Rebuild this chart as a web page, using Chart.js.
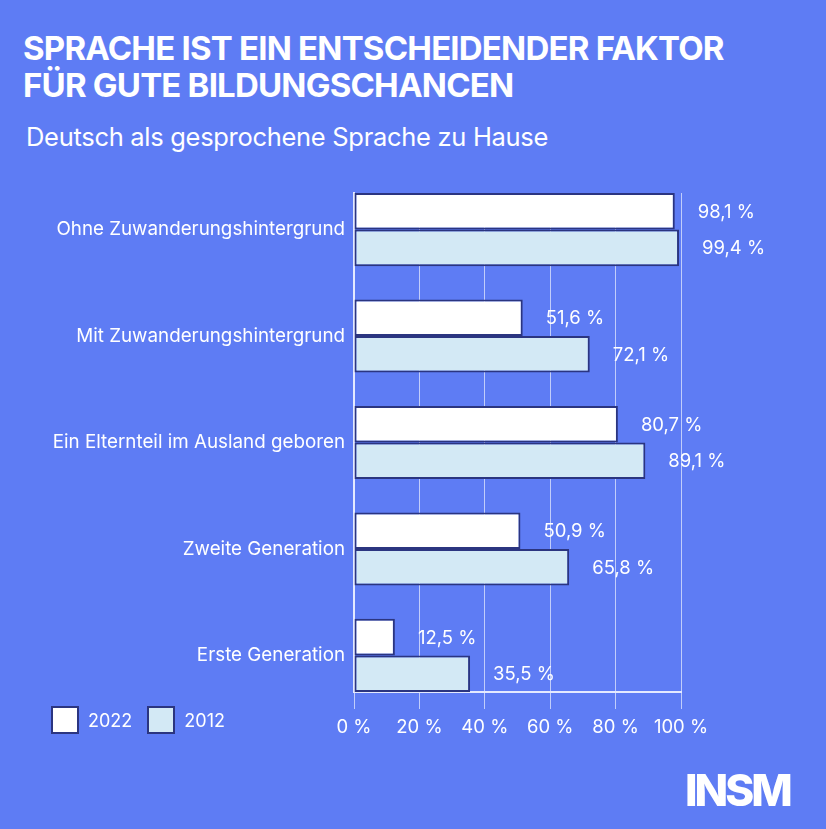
<!DOCTYPE html>
<html>
<head>
<meta charset="utf-8">
<script src="https://cdn.jsdelivr.net/npm/chart.js@4"></script>
<style>
  html, body { margin: 0; padding: 0; }
  body { width: 826px; height: 829px; background: #5e7cf4; position: relative; overflow: hidden; font-family: Inter, "Noto Sans", sans-serif; color: #fff; }
  #title { position: absolute; left: 23px; top: 30px; font-size: 33px; font-weight: 700; line-height: 37px; letter-spacing: -0.8px; }
  #subtitle { position: absolute; left: 26px; top: 121px; font-size: 25.5px; font-weight: 400; letter-spacing: -0.3px; }
  #legend { position: absolute; left: 51px; top: 706px; display: flex; align-items: center; font-size: 18px; }
  #legend .box { width: 24px; height: 24px; border: 2px solid #2b3580; margin-right: 9px; }
  #legend .item { display: flex; align-items: center; margin-right: 15px; }
  #logo { position: absolute; left: 685px; top: 763px; font-size: 44px; font-weight: 800; letter-spacing: -3px; }
  #wrap { position: absolute; left: 0; top: 0; width: 826px; height: 829px; }
</style>
</head>
<body>
<div id="title">SPRACHE IST EIN ENTSCHEIDENDER FAKTOR<br>FÜR GUTE BILDUNGSCHANCEN</div>
<div id="subtitle">Deutsch als gesprochene Sprache zu Hause</div>
<div id="wrap"><canvas id="chart"></canvas></div>
<div id="legend"></div>
<div id="logo">INSM</div>

<script>
// data
const categories = [
    "Ohne Zuwanderungshintergrund",
    "Mit Zuwanderungshintergrund",
    "Ein Elternteil im Ausland geboren",
    "Zweite Generation",
    "Erste Generation"
];
const values2022 = [98.1, 51.6, 80.7, 50.9, 12.5];
const values2012 = [99.4, 72.1, 89.1, 65.8, 35.5];
const xTicks = [0, 20, 40, 60, 80, 100];

const navy = "#2b3580";
const gridColor = "rgba(255, 255, 255, 0.62)";

function toPoints(values) {
    return values.map((v, i) => ({ x: v, y: i }));
}

function fmt(v) {
    return v.toFixed(1).replace(".", ",") + " %";
}

// value labels to the right of each bar
const valueLabels = {
    id: "valueLabels",
    afterDatasetsDraw(chart) {
        const ctx = chart.ctx;
        ctx.save();
        ctx.fillStyle = "#fff";
        ctx.font = "18.5px Inter";
        ctx.textAlign = "left";
        ctx.textBaseline = "middle";
        chart.data.datasets.forEach((ds, di) => {
            chart.getDatasetMeta(di).data.forEach((bar, i) => {
                ctx.fillText(fmt(ds.data[i].x), bar.x + 23, bar.y + 1);
            });
        });
        ctx.restore();
    }
};

const ctx = document.getElementById("chart").getContext("2d");

const chart = new Chart(ctx, {
    type: "bar",
    data: {
        datasets: [
            {
                label: "2022",
                data: toPoints(values2022),
                backgroundColor: "#ffffff",
                borderColor: navy,
                borderWidth: 2,
                borderSkipped: false
            },
            {
                label: "2012",
                data: toPoints(values2012),
                backgroundColor: "#d3e9f5",
                borderColor: navy,
                borderWidth: 2,
                borderSkipped: false
            }
        ]
    },
    options: {
        indexAxis: "y",
        responsive: true,
        maintainAspectRatio: false,
        animation: false,
        categoryPercentage: 0.687,
        barPercentage: 1.0,
        layout: {
            padding: { top: 193, right: 145, bottom: 0, left: 0 }
        },
        plugins: {
            legend: { display: false },
            tooltip: { enabled: false }
        },
        scales: {
            x: {
                type: "linear",
                min: 0,
                max: 100,
                afterBuildTicks: (scale) => {
                    scale.ticks = xTicks.map(v => ({ value: v }));
                },
                afterFit: (scale) => { scale.height = 829 - 692; },
                grid: { color: gridColor, lineWidth: 1, tickLength: 17 },
                border: { display: true, color: "#e4e9ff", width: 2 },
                ticks: {
                    color: "#fff",
                    font: { family: "Inter", size: 18.5 },
                    padding: 7,
                    maxRotation: 0,
                    callback: (v) => v + " %"
                }
            },
            y: {
                type: "linear",
                bounds: "data",
                offset: false,
                reverse: true,
                min: -0.3435,
                max: 4.3435,
                afterBuildTicks: (scale) => {
                    scale.ticks = categories.map((c, i) => ({ value: i }));
                },
                afterFit: (scale) => { scale.width = 354; },
                grid: { display: false, drawTicks: false },
                border: { display: true, color: "#e4e9ff", width: 2 },
                ticks: {
                    color: "#fff",
                    font: { family: "Inter", size: 18.8 },
                    padding: 9,
                    callback: (v) => categories[v] ?? ""
                }
            }
        }
    },
    plugins: [valueLabels]
});

// html legend from the datasets
const legendEl = document.getElementById("legend");
chart.data.datasets.forEach(ds => {
    const item = document.createElement("div");
    item.className = "item";
    item.innerHTML = '<div class="box" style="background:' + ds.backgroundColor + '"></div><span>' + ds.label + '</span>';
    legendEl.appendChild(item);
});
</script>
</body>
</html>
